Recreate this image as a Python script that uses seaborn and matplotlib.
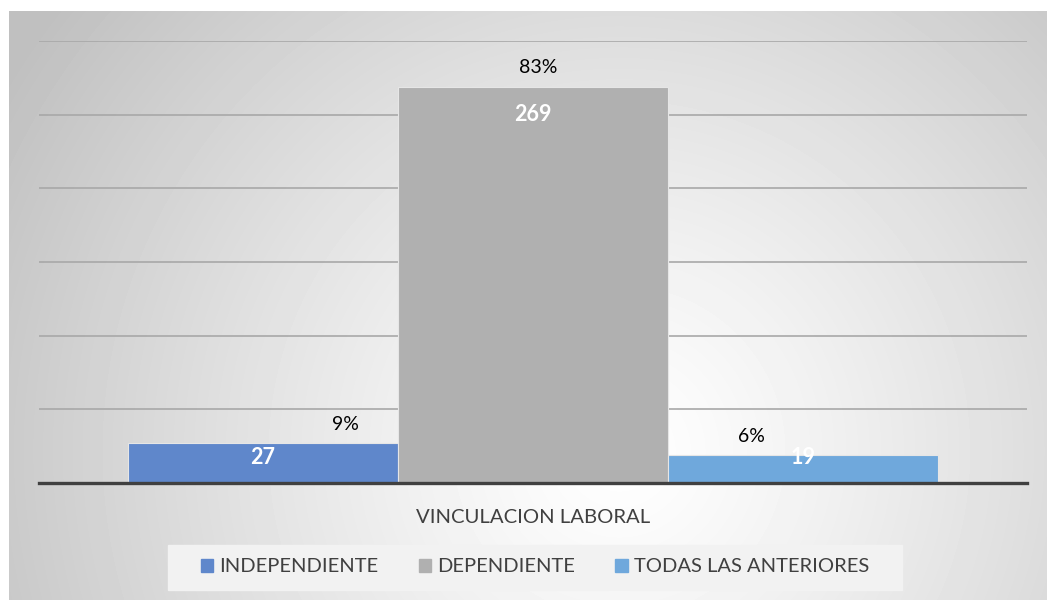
import numpy as np
import pandas as pd
import matplotlib.pyplot as plt
import seaborn as sns

# data
category = "VINCULACION LABORAL"
series = ["INDEPENDIENTE", "DEPENDIENTE", "TODAS LAS ANTERIORES"]
counts = [27, 269, 19]
percents = ["9%", "83%", "6%"]
colors = ["#5F87CB", "#B0B0B0", "#6FA8DC"]

df = pd.DataFrame({"grupo": [category] * 3, "serie": series, "n": counts})

sns.set_style("white")
plt.rcParams["font.family"] = ["Lato", "DejaVu Sans"]

fig = plt.figure(figsize=(10.47, 6), dpi=100)

# radial gradient background panel
bg = fig.add_axes([9 / 1047, 0, 1 - 9 / 1047, 589 / 600], zorder=-5)
yy, xx = np.mgrid[0:589, 0:1038]
r = np.sqrt((xx - 610) ** 2 + (yy - 440) ** 2) / 720
shade = 1 - 0.25 * np.clip(r, 0, 1) ** 1.2
bg.imshow(shade, cmap="gray", vmin=0, vmax=1, aspect="auto", origin="upper")
bg.axis("off")

ax = fig.add_axes([39 / 1047, 117 / 600, 988 / 1047, 442 / 600])
ax.set_facecolor("none")

sns.barplot(data=df, x="grupo", y="n", hue="serie", palette=colors,
            width=0.82, dodge=True, saturation=1, edgecolor="#e6e6e6",
            linewidth=0.8, ax=ax, zorder=3)

ax.set_ylim(0, 300)
ax.set_xlim(-0.5, 0.5)
ax.set_yticks(range(50, 301, 50))
ax.yaxis.grid(True, color="#a8a8a8", linewidth=1.2, zorder=0)
ax.set_axisbelow(True)
ax.tick_params(axis="y", left=False, labelleft=False)
ax.tick_params(axis="x", length=0, pad=19, labelsize=14.6, labelcolor="#404040")
ax.set_xlabel("")
ax.set_ylabel("")
for s in ["top", "right", "left"]:
    ax.spines[s].set_visible(False)
ax.spines["bottom"].set_color("#404040")
ax.spines["bottom"].set_linewidth(2.4)
ax.spines["bottom"].set_zorder(5)

# labels
label_shift = [0.083, 0.005, -0.052]
bars = [p for p in ax.patches if p.get_height() > 0]
bars.sort(key=lambda p: p.get_x())
for p, n, pct, dx in zip(bars, counts, percents, label_shift):
    cx = p.get_x() + p.get_width() / 2
    ly = n - 19 if n > 60 else 17.5
    ax.text(cx, ly, str(n), ha="center", va="center", color="white",
            fontsize=15.5, fontweight="bold", zorder=6)
    ax.annotate(pct, (cx + dx, n), xytext=(0, 19), textcoords="offset pixels",
                ha="center", va="center", fontsize=14, color="black", zorder=6)

# legend on a light strip
ax.legend_.remove()
fig.patches.append(plt.Rectangle((168 / 1047, 10 / 600), 734 / 1047, 45 / 600,
                                 transform=fig.transFigure, color="#f2f2f2",
                                 zorder=-1))
handles = [plt.Rectangle((0, 0), 1, 1, color=c) for c in colors]
leg = fig.legend(handles, series, loc="center", bbox_to_anchor=(0.511, 0.055),
                 ncol=3, frameon=False, fontsize=14.5, handlelength=0.62,
                 handleheight=0.62, handletextpad=0.3, columnspacing=2.0)
for t in leg.get_texts():
    t.set_color("#404040")

fig.savefig("out.png", dpi=100)
